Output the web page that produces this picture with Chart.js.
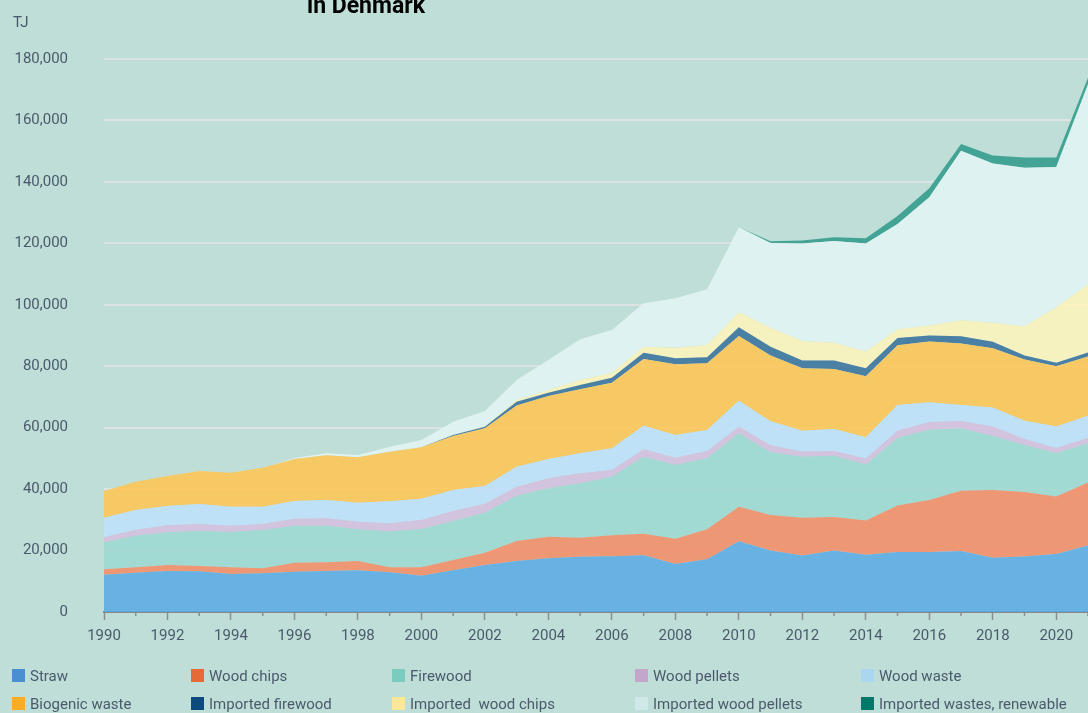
<!DOCTYPE html>
<html>
<head>
<meta charset="utf-8">
<script src="https://cdn.jsdelivr.net/npm/chart.js@4/dist/chart.umd.min.js"></script>
<style>
  html, body { margin: 0; padding: 0; background: #bfded8; overflow: hidden; }
  #wrap { position: relative; width: 1088px; height: 713px; }
  #chart { position: absolute; left: 0; top: 0; }
  #legend { position: absolute; left: 0; top: 0; width: 1088px; height: 713px; pointer-events: none;
            font-family: Roboto, "Noto Sans", sans-serif; font-size: 15px; color: #4a5a6b; }
  .item { position: absolute; white-space: pre; line-height: 18px; }
  .box { position: absolute; left: 0; top: 2px; width: 13px; height: 13px; }
  .lbl { position: absolute; left: 18px; top: 0; white-space: pre; }
</style>
</head>
<body>
<div id="wrap">
  <canvas id="chart" width="1088" height="713"></canvas>
  <div id="legend"></div>
</div>
<script>
// Years on the x axis
const years = [];
for (let y = 1990; y <= 2021; y++) years.push(String(y));

// Bioenergy consumption by source, TJ
const straw = [12100, 12800, 13350, 13240, 12370, 12590, 13120, 13350, 13570, 12900, 11820, 13600, 15300, 16600, 17480, 18000, 18130, 18450, 15620, 17150, 23010, 20000, 18390, 20020, 18620, 19530, 19530, 19890, 17680, 18030, 18850, 21610];
const woodChips = [1800, 1740, 1950, 1730, 2170, 1630, 2930, 2820, 3030, 1700, 2720, 3300, 4000, 6510, 7030, 6190, 6830, 7040, 8240, 9770, 11270, 11600, 12270, 10900, 11130, 15100, 16960, 19590, 22030, 20990, 18780, 20540];
const firewood = [8800, 10310, 10640, 11400, 11500, 12470, 12050, 11930, 10300, 11640, 12460, 12700, 13000, 14750, 15750, 17700, 19080, 25060, 23990, 23110, 23890, 20400, 19860, 19960, 18230, 22040, 22850, 20320, 17550, 15340, 14060, 12800];
const woodPellets = [1600, 1950, 2260, 2280, 2060, 1960, 2270, 2400, 2500, 2610, 2950, 3270, 2900, 2930, 3260, 3260, 2180, 2410, 2380, 2380, 2150, 2250, 1760, 1520, 1950, 2310, 2540, 2340, 3120, 1950, 1720, 1720];
const woodWaste = [6400, 6400, 6300, 6500, 6180, 5630, 5760, 5960, 6180, 7160, 6950, 6830, 5800, 6510, 6280, 6510, 7060, 7680, 7380, 6830, 8460, 7800, 6700, 7170, 6970, 8370, 6410, 5210, 6150, 5930, 6970, 7200];
const biogenicWaste = [8700, 9220, 9770, 10750, 11070, 12700, 13670, 14540, 14770, 16150, 16700, 17590, 18800, 19900, 20510, 20830, 21360, 21710, 23010, 21710, 21060, 21450, 20320, 19530, 19860, 19500, 19730, 20080, 19330, 19980, 19620, 19330];
const importedFirewood = [0, 0, 0, 0, 0, 0, 0, 0, 0, 0, 0, 300, 500, 1260, 1080, 1400, 1630, 2060, 1960, 1950, 2830, 2850, 2570, 2770, 2540, 2310, 1950, 2310, 2090, 1280, 1100, 1300];
const importedWoodChips = [0, 0, 0, 0, 0, 0, 0, 0, 0, 0, 0, 0, 200, 540, 870, 1630, 1630, 1950, 3450, 4010, 4880, 6150, 6380, 5790, 5460, 2890, 3250, 5240, 6220, 9500, 18100, 22200];
const importedWoodPellets = [0, 0, 0, 0, 0, 0, 300, 650, 750, 1620, 2390, 4360, 4900, 6500, 9770, 13250, 13890, 14120, 16070, 18130, 27670, 27600, 31660, 33070, 35150, 34250, 41760, 55120, 51850, 51630, 45650, 65100];
const importedWastesRenewable = [0, 0, 0, 0, 0, 0, 0, 0, 0, 0, 0, 0, 0, 0, 0, 0, 0, 0, 0, 0, 0, 600, 1050, 1270, 1730, 2570, 2920, 2210, 2600, 3300, 3100, 2100];

// Series names as shown in the legend
const seriesNames = ['Straw', 'Wood chips', 'Firewood', 'Wood pellets', 'Wood waste', 'Biogenic waste',
  'Imported firewood', 'Imported  wood chips', 'Imported wood pellets', 'Imported wastes, renewable'];
const seriesValues = [straw, woodChips, firewood, woodPellets, woodWaste, biogenicWaste,
  importedFirewood, importedWoodChips, importedWoodPellets, importedWastesRenewable];

// Y axis ticks
const yTicks = [0, 20000, 40000, 60000, 80000, 100000, 120000, 140000, 160000, 180000];

// Legend swatch colours and the lighter area fills
const legendColors = ['#4a90d0', '#e66a38', '#7ccbbf', '#c4a6cb', '#aad6f0', '#f9ad26', '#0d4a7e', '#fae79b', '#cfe9e8', '#00796b'];
const fillColors = ['rgba(88,170,228,0.86)', 'rgba(246,138,100,0.86)', 'rgba(155,217,209,0.86)', 'rgba(213,190,222,0.86)',
  'rgba(190,225,252,0.86)', 'rgba(255,198,84,0.88)', 'rgba(56,112,156,0.86)', 'rgba(255,244,186,0.86)',
  'rgba(226,244,245,0.86)', 'rgba(50,156,140,0.88)'];

const textColor = '#4a5a6b';
const fontFamily = 'Roboto, "Noto Sans", sans-serif';

const datasets = seriesNames.map((name, i) => ({
  label: name,
  data: seriesValues[i],
  backgroundColor: fillColors[i],
  borderWidth: 0,
  pointRadius: 0,
  pointHoverRadius: 0,
  tension: 0,
  fill: i === 0 ? 'origin' : '-1'
}));

// Title line, unit label and minor year ticks
const decorations = {
  id: 'decorations',
  afterDraw(chart) {
    const ctx = chart.ctx;
    ctx.save();
    ctx.fillStyle = '#000';
    ctx.font = 'bold 23px ' + fontFamily;
    ctx.textAlign = 'center';
    ctx.textBaseline = 'alphabetic';
    ctx.fillText('in Denmark', 366, 12.5);

    ctx.fillStyle = textColor;
    ctx.font = '15px ' + fontFamily;
    ctx.textAlign = 'left';
    ctx.textBaseline = 'middle';
    ctx.fillText('TJ', 13, 23);

    const xs = chart.scales.x;
    ctx.strokeStyle = '#8a8e90';
    ctx.lineWidth = 1.5;
    for (let i = 1; i < years.length; i += 2) {
      const px = xs.getPixelForTick(i);
      ctx.beginPath();
      ctx.moveTo(px, xs.top);
      ctx.lineTo(px, xs.top + 4);
      ctx.stroke();
    }
    ctx.restore();
  }
};

new Chart(document.getElementById('chart'), {
  type: 'line',
  data: { labels: years, datasets },
  options: {
    responsive: false,
    animation: false,
    events: [],
    layout: { padding: { left: 13, right: 0, top: 59, bottom: 69 } },
    plugins: { legend: { display: false }, tooltip: { enabled: false }, title: { display: false } },
    scales: {
      x: {
        type: 'category',
        offset: false,
        grid: {
          drawOnChartArea: false,
          drawTicks: true,
          tickLength: 8,
          tickWidth: 1.5,
          tickColor: (c) => (c.index % 2 === 0 ? '#8a8e90' : 'rgba(0,0,0,0)')
        },
        border: { display: true, color: '#85898b', width: 2 },
        ticks: {
          autoSkip: false,
          maxRotation: 0,
          padding: 7,
          color: textColor,
          font: { family: fontFamily, size: 15 },
          callback: function (v, i) { return i % 2 === 0 ? years[i] : ''; }
        },
        afterFit(scale) {
          scale.height = 32;
          scale.paddingLeft = 0;
          scale.paddingRight = 0;
        }
      },
      y: {
        stacked: true,
        min: 0,
        max: 180000,
        afterBuildTicks(scale) { scale.ticks = yTicks.map(v => ({ value: v })); },
        grid: { color: '#dde2e2', lineWidth: 2, drawTicks: false },
        border: { display: false },
        ticks: {
          padding: 36,
          color: textColor,
          font: { family: fontFamily, size: 15 },
          callback: (v) => Number(v).toLocaleString('en-US')
        },
        afterFit(scale) { scale.width = 91; }
      }
    }
  },
  plugins: [decorations]
});

// Legend laid out in five columns and two rows
const legendEl = document.getElementById('legend');
const colLeft = [12, 191, 392, 635, 861];
const rowTop = [667, 695];
seriesNames.forEach((name, i) => {
  const item = document.createElement('div');
  item.className = 'item';
  item.style.left = colLeft[i % 5] + 'px';
  item.style.top = rowTop[Math.floor(i / 5)] + 'px';
  const box = document.createElement('span');
  box.className = 'box';
  box.style.background = legendColors[i];
  const lbl = document.createElement('span');
  lbl.className = 'lbl';
  lbl.textContent = name;
  item.appendChild(box);
  item.appendChild(lbl);
  legendEl.appendChild(item);
});
</script>
</body>
</html>
